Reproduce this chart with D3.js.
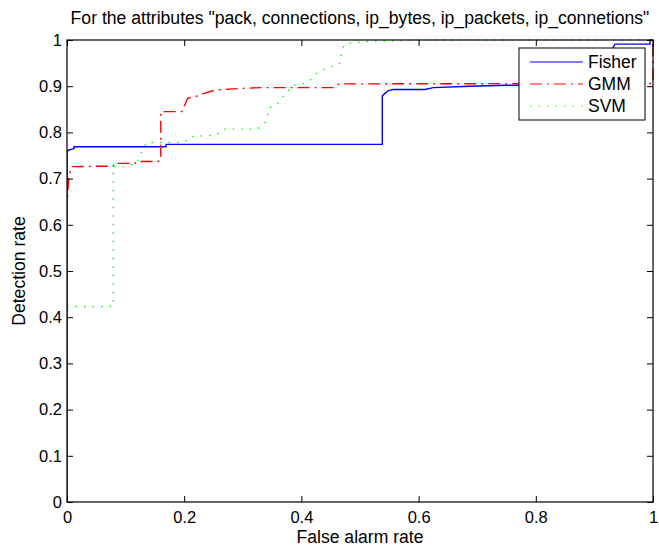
<!DOCTYPE html>
<html>
<head>
<meta charset="utf-8">
<script src="https://cdn.jsdelivr.net/npm/d3@7"></script>
<style>
  body { margin: 0; background: #fff; }
  svg { display: block; font-family: "Liberation Sans", Arial, sans-serif; }
</style>
</head>
<body>
<div id="chart"></div>
<script>
// ROC curves
const fisherX = [0, 0, 0.003, 0.012, 0.012, 0.169, 0.169, 0.538, 0.538, 0.543, 0.548, 0.557, 0.611, 0.625, 0.688, 0.75, 0.932, 0.932, 0.935, 0.995, 0.995, 1];
const fisherY = [0, 0.758, 0.762, 0.765, 0.769, 0.769, 0.774, 0.774, 0.879, 0.885, 0.890, 0.893, 0.893, 0.897, 0.900, 0.902, 0.902, 0.984, 0.991, 0.991, 1, 1];

const gmmX = [0, 0, 0.003, 0.008, 0.079, 0.08, 0.116, 0.118, 0.156, 0.158, 0.160, 0.160, 0.196, 0.206, 0.218, 0.238, 0.254, 0.295, 0.332, 0.457, 0.464, 1, 1];
const gmmY = [0, 0.64, 0.704, 0.726, 0.727, 0.733, 0.733, 0.737, 0.737, 0.747, 0.747, 0.845, 0.845, 0.874, 0.877, 0.886, 0.892, 0.895, 0.897, 0.897, 0.905, 0.906, 1];

const svmX = [0, 0, 0.079, 0.079, 0.097, 0.119, 0.13, 0.136, 0.194, 0.204, 0.211, 0.251, 0.260, 0.268, 0.324, 0.332, 0.339, 0.342, 0.343, 0.351, 0.361, 0.366, 0.374, 0.379, 0.386, 0.399, 0.409, 0.418, 0.424, 0.437, 0.449, 0.457, 0.465, 0.466, 0.469, 0.472, 0.480, 0.494, 0.517, 0.6, 1];
const svmY = [0, 0.423, 0.423, 0.726, 0.726, 0.733, 0.766, 0.778, 0.778, 0.782, 0.791, 0.794, 0.799, 0.807, 0.807, 0.814, 0.823, 0.835, 0.850, 0.859, 0.864, 0.874, 0.883, 0.893, 0.902, 0.904, 0.908, 0.916, 0.926, 0.936, 0.942, 0.944, 0.949, 0.958, 0.974, 0.987, 0.993, 0.995, 0.997, 1, 1];

const xTicks = [0, 0.2, 0.4, 0.6, 0.8, 1];
const yTicks = [0, 0.1, 0.2, 0.3, 0.4, 0.5, 0.6, 0.7, 0.8, 0.9, 1];

const series = [
  { name: 'Fisher', xs: fisherX, ys: fisherY, color: '#0000ff', dash: null },
  { name: 'GMM', xs: gmmX, ys: gmmY, color: '#ff0000', dash: '12,5,2,5' },
  { name: 'SVM', xs: svmX, ys: svmY, color: '#00ff00', dash: '1.5,7' }
];

const W = 659, H = 546;
const pLeft = 67, pRight = 653, pTop = 40, pBottom = 502;

const svg = d3.select('#chart').append('svg').attr('width', W).attr('height', H);

const x = d3.scaleLinear().domain([0, 1]).range([pLeft, pRight]);
const y = d3.scaleLinear().domain([0, 1]).range([pBottom, pTop]);

svg.append('clipPath').attr('id', 'clip').append('rect')
  .attr('x', pLeft).attr('y', pTop - 1).attr('width', pRight - pLeft + 1).attr('height', pBottom - pTop + 2);

let lineGen = d3.line().x(d => x(d[0])).y(d => y(d[1]));

let plot = svg.append('g').attr('clip-path', 'url(#clip)');
series.forEach(s => {
  let pts = s.xs.map((v, i) => [v, s.ys[i]]);
  plot.append('path')
    .attr('d', lineGen(pts))
    .attr('fill', 'none')
    .attr('stroke', s.color)
    .attr('stroke-width', 1.4)
    .attr('stroke-dasharray', s.dash);
});

// axes, matlab style: ticks inward on all four sides
const tl = 6;
let axB = d3.axisBottom(x).tickValues(xTicks).tickSizeInner(-tl).tickSizeOuter(0).tickPadding(9).tickFormat(d3.format('~g'));
let axT = d3.axisTop(x).tickValues(xTicks).tickSizeInner(-tl).tickSizeOuter(0).tickFormat('');
let axL = d3.axisLeft(y).tickValues(yTicks).tickSizeInner(-tl).tickSizeOuter(0).tickPadding(5).tickFormat(d3.format('~g'));
let axR = d3.axisRight(y).tickValues(yTicks).tickSizeInner(-tl).tickSizeOuter(0).tickFormat('');

svg.append('g').attr('transform', `translate(0,${pBottom})`).call(axB);
svg.append('g').attr('transform', `translate(0,${pTop})`).call(axT);
svg.append('g').attr('transform', `translate(${pLeft},0)`).call(axL);
svg.append('g').attr('transform', `translate(${pRight},0)`).call(axR);

svg.selectAll('.domain').remove();
svg.selectAll('.tick line').attr('stroke', '#000');
svg.selectAll('.tick text').attr('font-size', 16.5).attr('fill', '#000').attr('font-family', '"Liberation Sans", Arial, sans-serif');

svg.append('rect')
  .attr('x', pLeft).attr('y', pTop).attr('width', pRight - pLeft).attr('height', pBottom - pTop)
  .attr('fill', 'none').attr('stroke', '#000').attr('stroke-width', 1.2);

// title & labels
svg.append('text')
  .attr('x', (pLeft + pRight) / 2).attr('y', 24)
  .attr('text-anchor', 'middle').attr('font-size', 17.6)
  .text('For the attributes "pack, connections, ip_bytes, ip_packets, ip_connetions"');

svg.append('text')
  .attr('x', (pLeft + pRight) / 2).attr('y', 543)
  .attr('text-anchor', 'middle').attr('font-size', 17.6)
  .text('False alarm rate');

svg.append('text')
  .attr('transform', `translate(25,${(pTop + pBottom) / 2}) rotate(-90)`)
  .attr('text-anchor', 'middle').attr('font-size', 17.6)
  .text('Detection rate');

// legend
let lg = svg.append('g');
lg.append('rect')
  .attr('x', 519).attr('y', 48).attr('width', 126).attr('height', 72)
  .attr('fill', '#fff').attr('stroke', '#000').attr('stroke-width', 1);
series.forEach((s, i) => {
  let ly = 62 + i * 22;
  lg.append('line')
    .attr('x1', 530).attr('x2', 583).attr('y1', ly).attr('y2', ly)
    .attr('stroke', s.color).attr('stroke-width', 1.2)
    .attr('stroke-dasharray', s.dash);
  lg.append('text')
    .attr('x', 588).attr('y', ly + 6)
    .attr('font-size', 17.5)
    .text(s.name);
});
</script>
</body>
</html>
